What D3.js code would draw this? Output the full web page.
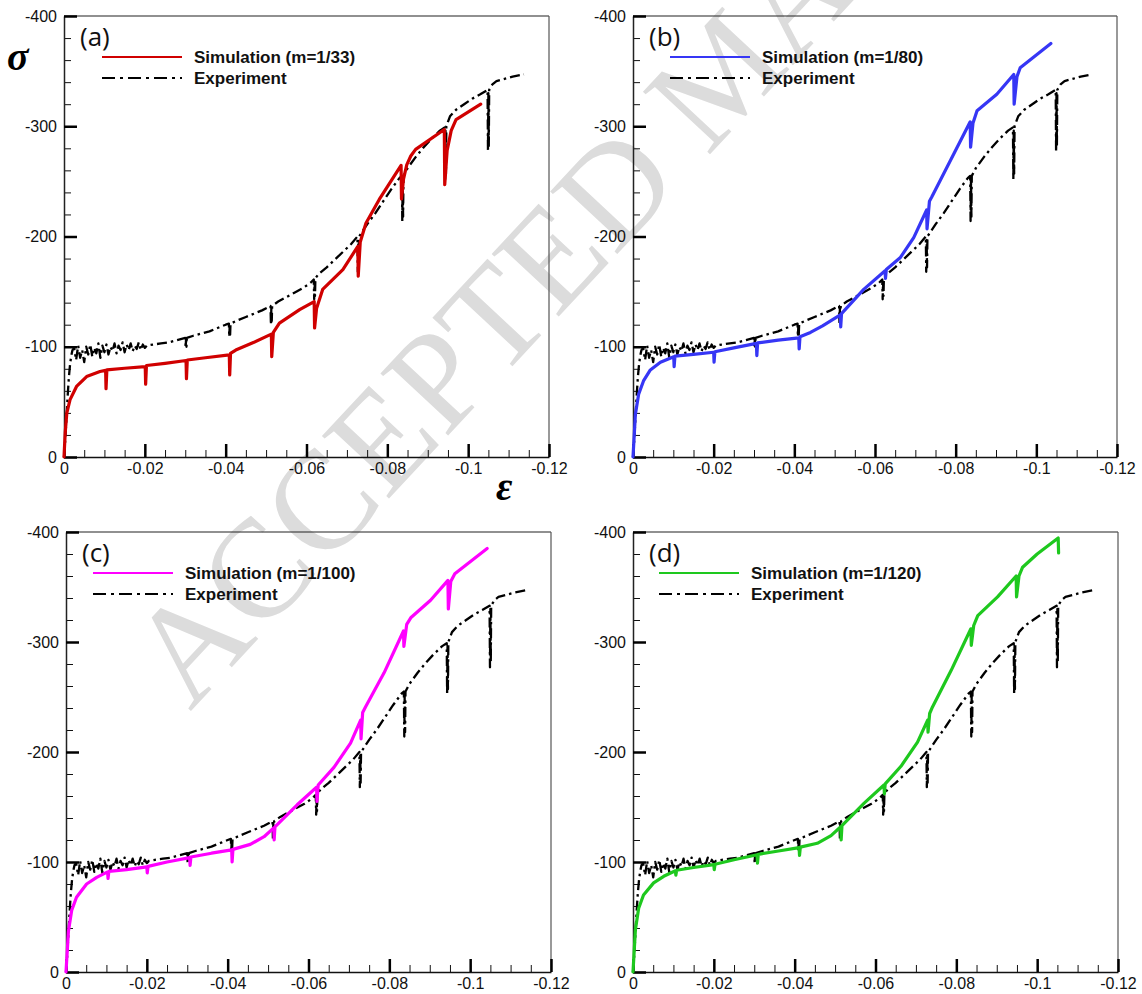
<!DOCTYPE html>
<html>
<head>
<meta charset="utf-8">
<script src="https://cdn.jsdelivr.net/npm/d3@7/dist/d3.min.js"></script>
<style>
  html, body { margin: 0; padding: 0; background: #fff; }
  svg { display: block; }
</style>
</head>
<body>
<svg id="chart" width="1142" height="994"></svg>
<script>
// ---- Data: compressive strain (ε) vs stress (σ, MPa) ----

// Experimental curve (identical in all four panels), including unload/reload loops
const expStrain = [0,-0.0003,-0.0006,-0.0009,-0.0012,-0.0015,-0.0018,-0.0021,
  -0.0025,-0.003,-0.0035,-0.004,-0.0045,-0.005,-0.0055,-0.006,-0.0065,-0.007,-0.0075,-0.008,
  -0.0085,-0.009,-0.0095,-0.010,-0.0105,-0.011,-0.0115,-0.012,-0.0125,-0.013,-0.0135,-0.014,
  -0.0145,-0.015,-0.0155,-0.016,-0.0165,-0.017,-0.0175,-0.018,-0.0185,-0.019,-0.0195,-0.020,
  -0.0205,-0.022,-0.024,-0.026,-0.028,-0.030,
  -0.0301,-0.0302,-0.0303,-0.0304,
  -0.032,-0.034,-0.036,-0.038,-0.040,-0.0408,
  -0.0409,-0.041,-0.0411,-0.0412,
  -0.043,-0.045,-0.047,-0.049,-0.0511,
  -0.0512,-0.0513,-0.0514,-0.0515,
  -0.053,-0.055,-0.057,-0.059,-0.061,-0.0618,
  -0.0619,-0.062,-0.0621,-0.0622,
  -0.063,-0.065,-0.067,-0.069,-0.071,-0.0726,
  -0.0727,-0.0728,-0.0729,-0.073,
  -0.075,-0.077,-0.079,-0.081,-0.083,-0.0836,
  -0.0837,-0.0838,-0.0839,-0.084,
  -0.085,-0.087,-0.089,-0.091,-0.093,-0.0942,
  -0.0943,-0.0944,-0.0945,-0.0946,
  -0.0955,-0.097,-0.099,-0.101,-0.103,-0.1048,
  -0.1049,-0.105,-0.1051,-0.1052,
  -0.106,-0.107,-0.109,-0.111,-0.1138];
const expStress = [0,-15,-35,-55,-72,-84,-92,-97,
  -99,-88,-101,-90,-97,-86,-100,-93,-102,-91,-99,-94,
  -103,-90,-101,-95,-102,-93,-100,-96,-103,-94,-101,-97,
  -104,-95,-102,-97,-103,-96,-101,-98,-104,-97,-102,-99,
  -101,-102,-103,-104,-106,-108,
  -99,-107,-100,-108,
  -110,-112,-114,-117,-120,-121,
  -109,-120,-111,-121,
  -124,-127,-130,-133,-137,
  -120,-135,-123,-137,
  -141,-145,-149,-153,-158,-161,
  -143,-159,-146,-162,
  -166,-172,-179,-186,-193,-200,
  -168,-197,-172,-200,
  -211,-221,-232,-243,-253,-255,
  -214,-252,-218,-255,
  -262,-272,-281,-289,-296,-299,
  -252,-296,-257,-300,
  -309,-315,-320,-325,-329,-333,
  -277,-330,-282,-333,
  -338,-341,-343,-345,-347];

// Simulation, m = 1/33
const simAStrain = [0,-0.0003,-0.0007,-0.0015,-0.0031,-0.0056,-0.0089,-0.0103,-0.0104,-0.0106,
  -0.015,-0.0201,-0.0202,-0.0204,-0.025,-0.0302,-0.0303,-0.0305,-0.035,-0.0409,-0.041,-0.0412,
  -0.0425,-0.047,-0.0513,-0.0514,-0.0518,-0.0533,-0.0583,-0.0619,-0.062,-0.0625,-0.064,-0.069,
  -0.0727,-0.0728,-0.0733,-0.0747,-0.078,-0.0834,-0.0835,-0.084,-0.0848,-0.0858,-0.087,-0.0941,
  -0.0942,-0.0948,-0.0958,-0.097,-0.1031];
const simAStress = [0,-22,-40,-52,-64,-73,-77.5,-78.6,-62,-79,
  -80.5,-82,-66,-83,-85,-87.5,-71,-88,-90,-92.7,-74.5,-94,
  -97,-104,-111.5,-91,-113,-121.5,-133.6,-141,-117,-135,-152,-170,
  -191,-164,-195,-212,-233.6,-264.5,-234,-252,-265,-273,-279,-297,
  -247,-278,-296,-306,-320];

// Simulation, m = 1/80
const simBStrain = [0,-0.0006,-0.0014,-0.0026,-0.0043,-0.0068,-0.0101,-0.0102,-0.0104,-0.015,
  -0.0200,-0.0201,-0.0203,-0.025,-0.0306,-0.0307,-0.0309,-0.036,-0.0411,-0.0412,-0.0414,-0.044,
  -0.047,-0.0514,-0.0515,-0.0517,-0.0572,-0.0625,-0.0626,-0.0628,-0.0663,-0.0696,-0.0728,-0.0729,
  -0.0735,-0.0741,-0.0787,-0.0836,-0.0837,-0.0843,-0.0853,-0.0902,-0.0944,-0.0945,-0.0952,-0.096,
  -0.1036];
const simBStress = [0,-39,-57,-69,-79,-86,-91,-82,-91.5,-93,
  -95,-86,-95.5,-99,-103,-92,-103.5,-106,-108,-98,-109,-113,
  -119,-129,-118,-130,-152,-169,-162,-170,-181,-199,-224,-207,
  -232,-236,-269,-304,-281,-303,-314,-329,-347,-320,-345,-353,
  -375];

// Simulation, m = 1/100
const simCStrain = [0,-0.0006,-0.0014,-0.0026,-0.0051,-0.0076,-0.0103,-0.0104,-0.0106,-0.015,
  -0.020,-0.0201,-0.0203,-0.025,-0.0306,-0.0307,-0.0309,-0.036,-0.041,-0.0411,-0.0413,-0.0456,
  -0.049,-0.0514,-0.0515,-0.0517,-0.0572,-0.062,-0.0621,-0.0624,-0.0663,-0.0704,-0.0729,-0.073,
  -0.0734,-0.0741,-0.0787,-0.0835,-0.0836,-0.0843,-0.0853,-0.0902,-0.0945,-0.0946,-0.0952,-0.0962,
  -0.1042];
const simCStress = [0,-37,-56,-68,-80,-86,-91,-85,-91.5,-93,
  -95.5,-90,-96,-100,-104,-97,-104.5,-108,-111,-100,-111.5,-116,
  -123,-131,-120,-132,-152,-168,-155,-170,-186,-208,-229,-212,
  -236,-241,-272,-310,-296,-316,-322,-338,-356,-330,-355,-362,
  -385];

// Simulation, m = 1/120
const simDStrain = [0,-0.0006,-0.0014,-0.0026,-0.0051,-0.0076,-0.0105,-0.0106,-0.0108,-0.015,
  -0.020,-0.0201,-0.0203,-0.025,-0.0307,-0.0308,-0.031,-0.036,-0.0411,-0.0412,-0.0414,-0.0456,
  -0.049,-0.0514,-0.0515,-0.0517,-0.0572,-0.0621,-0.0622,-0.0624,-0.0663,-0.0704,-0.0729,-0.073,
  -0.0734,-0.0741,-0.0787,-0.0836,-0.0837,-0.0843,-0.0853,-0.0902,-0.0948,-0.0949,-0.0955,-0.0964,
  -0.100,-0.1052,-0.1053];
const simDStress = [0,-38.7,-58,-70,-81,-87,-92,-88,-92.5,-95,
  -97.6,-93,-98,-102,-106.6,-99,-107,-110,-113,-106,-113.5,-117,
  -124,-132,-120,-133,-153.5,-170,-162,-171,-187,-209,-229,-218,
  -235,-241,-274,-312,-297,-315,-324,-341,-360,-341,-360,-368,
  -380,-394.5,-381];

// Axis ticks and labels
const xMajorTicks = [0, -0.02, -0.04, -0.06, -0.08, -0.1, -0.12];
const xTickLabels = ["0", "-0.02", "-0.04", "-0.06", "-0.08", "-0.1", "-0.12"];
const yMajorTicks = [0, -100, -200, -300, -400];
const yTickLabels = ["0", "-100", "-200", "-300", "-400"];

const panelTags = ["(a)", "(b)", "(c)", "(d)"];
const simNames = ["Simulation (m=1/33)", "Simulation (m=1/80)", "Simulation (m=1/100)", "Simulation (m=1/120)"];
const expName = "Experiment";

// ---- Drawing ----
const svg = d3.select("#chart");
const sansFont = "'Liberation Sans', Arial, Helvetica, sans-serif";

// Diagonal manuscript stamp, behind everything
svg.append("text")
  .attr("transform", "translate(190,712) rotate(-47)")
  .attr("font-family", "'Liberation Serif', 'Times New Roman', serif")
  .attr("font-size", 140)
  .attr("fill", "#dcdcdc")
  .text("ACCEPTED MANUSCRIPT");

const simSeries = [
  { strain: simAStrain, stress: simAStress, color: "#d00000" },
  { strain: simBStrain, stress: simBStress, color: "#3636f5" },
  { strain: simCStrain, stress: simCStress, color: "#ff00ff" },
  { strain: simDStrain, stress: simDStress, color: "#1ec81e" }
];

const frames = [
  { left: 64,  right: 549,  top: 16,  bottom: 457, legendX: 38 },
  { left: 633, right: 1117, top: 16,  bottom: 457, legendX: 37 },
  { left: 66,  right: 551,  top: 532, bottom: 972, legendX: 27 },
  { left: 633, right: 1118, top: 532, bottom: 972, legendX: 26 }
];

const dashDot = "10,4,2.5,4";

frames.forEach((f, i) => {
  const w = f.right - f.left, h = f.bottom - f.top;
  const g = svg.append("g").attr("transform", `translate(${f.left},${f.top})`);

  const x = d3.scaleLinear().domain([0, -0.12]).range([0, w]);
  const y = d3.scaleLinear().domain([0, -400]).range([h, 0]);

  // frame: thin top and right borders
  g.append("line").attr("x1", 0).attr("x2", w).attr("y1", 0).attr("y2", 0)
    .attr("stroke", "#222").attr("stroke-width", 1.2);
  g.append("line").attr("x1", w).attr("x2", w).attr("y1", 0).attr("y2", h)
    .attr("stroke", "#555").attr("stroke-width", 1.2);

  // minor ticks
  const xMinor = d3.range(0, 25).map(k => -k * 0.005);
  const yMinor = d3.range(0, 21).map(k => -k * 20);
  g.append("g").attr("transform", `translate(0,${h})`)
    .call(d3.axisBottom(x).tickValues(xMinor).tickFormat("").tickSize(-7))
    .call(a => a.select(".domain").remove())
    .call(a => a.selectAll("line").attr("stroke", "#111").attr("stroke-width", 1));
  g.append("g")
    .call(d3.axisLeft(y).tickValues(yMinor).tickFormat("").tickSize(-7))
    .call(a => a.select(".domain").remove())
    .call(a => a.selectAll("line").attr("stroke", "#111").attr("stroke-width", 1));

  // major ticks with labels
  g.append("g").attr("transform", `translate(0,${h})`)
    .call(d3.axisBottom(x).tickValues(xMajorTicks)
      .tickFormat((d, k) => xTickLabels[k]).tickSizeInner(-13).tickSizeOuter(0).tickPadding(4))
    .call(a => a.select(".domain").attr("stroke", "#111").attr("stroke-width", 1.5))
    .call(a => a.selectAll("line").attr("stroke", "#000").attr("stroke-width", 2.5))
    .call(a => a.selectAll("text").attr("y", 17).attr("dy", 0)
      .attr("font-family", sansFont).attr("font-size", 16).attr("fill", "#111"));
  g.append("g")
    .call(d3.axisLeft(y).tickValues(yMajorTicks)
      .tickFormat((d, k) => yTickLabels[k]).tickSizeInner(-13).tickSizeOuter(0).tickPadding(6))
    .call(a => a.select(".domain").attr("stroke", "#222").attr("stroke-width", 1.5))
    .call(a => a.selectAll("line").attr("stroke", "#000").attr("stroke-width", 2.5))
    .call(a => a.selectAll("text").attr("x", -7)
      .attr("font-family", sansFont).attr("font-size", 16).attr("fill", "#111"));

  const line = d3.line().x(d => x(d[0])).y(d => y(d[1]));

  // experiment
  const expData = expStrain.map((e, k) => [e, expStress[k]]);
  g.append("path").datum(expData)
    .attr("d", line).attr("fill", "none")
    .attr("stroke", "#000").attr("stroke-width", 2.3)
    .attr("stroke-dasharray", dashDot).attr("stroke-linejoin", "round");

  // simulation
  const s = simSeries[i];
  const simData = s.strain.map((e, k) => [e, s.stress[k]]);
  g.append("path").datum(simData)
    .attr("d", line).attr("fill", "none")
    .attr("stroke", s.color).attr("stroke-width", 3.2)
    .attr("stroke-linejoin", "round").attr("stroke-linecap", "round");

  // panel tag
  g.append("text").attr("x", 16).attr("y", 30)
    .attr("font-family", "'Open Sans', 'Noto Sans', sans-serif").attr("font-size", 26)
    .attr("fill", "#111").text(panelTags[i]);

  // legend
  const lx = f.legendX;
  g.append("line").attr("x1", lx).attr("x2", lx + 80).attr("y1", 41).attr("y2", 41)
    .attr("stroke", s.color).attr("stroke-width", 2);
  g.append("text").attr("x", lx + 92).attr("y", 47)
    .attr("font-family", sansFont).attr("font-weight", "bold").attr("font-size", 17)
    .attr("fill", "#111").text(simNames[i]);
  g.append("line").attr("x1", lx).attr("x2", lx + 80).attr("y1", 62).attr("y2", 62)
    .attr("stroke", "#000").attr("stroke-width", 2).attr("stroke-dasharray", "13,5,3,5");
  g.append("text").attr("x", lx + 92).attr("y", 68)
    .attr("font-family", sansFont).attr("font-weight", "bold").attr("font-size", 17)
    .attr("fill", "#111").text(expName);
});

// axis symbols
svg.append("text").attr("x", 7).attr("y", 70)
  .attr("font-family", "'Liberation Serif', 'Times New Roman', serif")
  .attr("font-style", "italic").attr("font-weight", "bold").attr("font-size", 40)
  .attr("fill", "#000").text("σ");
svg.append("text").attr("x", 496).attr("y", 500)
  .attr("font-family", "'Liberation Serif', 'Times New Roman', serif")
  .attr("font-style", "italic").attr("font-weight", "bold").attr("font-size", 40)
  .attr("fill", "#000").text("ε");
</script>
</body>
</html>
